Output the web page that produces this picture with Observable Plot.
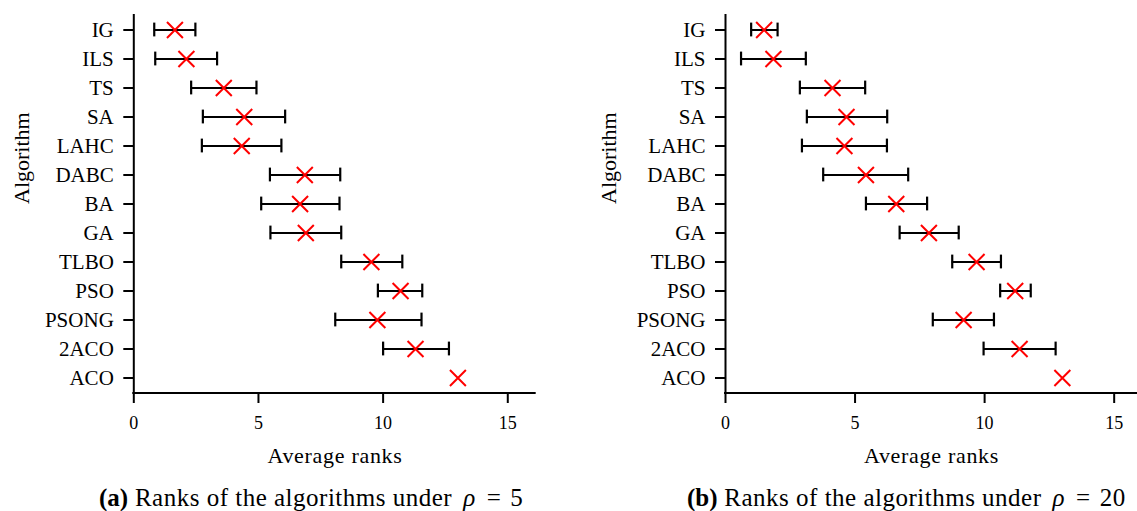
<!DOCTYPE html>
<html><head><meta charset="utf-8">
<script src="https://cdn.jsdelivr.net/npm/d3@7"></script>
<script src="https://cdn.jsdelivr.net/npm/@observablehq/plot@0.6"></script>
<style>
body{margin:0;background:#fff;font-family:"Liberation Serif","Times New Roman",serif;color:#000}
#wrap{position:relative;width:1137px;height:511px;overflow:hidden;background:#fff}
.panel{position:absolute;top:0}
.cap{position:absolute;top:485px;font-size:25px;line-height:25px;white-space:nowrap;letter-spacing:0.5px}
.cap b{letter-spacing:0}
</style></head><body>
<div id="wrap"><div class="panel" id="pa" style="left:0;width:560px"></div><div class="panel" id="pb" style="left:580px;width:557px"></div></div>
<script>
const algorithms = ["IG","ILS","TS","SA","LAHC","DABC","BA","GA","TLBO","PSO","PSONG","2ACO","ACO"];
const xTicks = [0, 5, 10, 15];

// (a) rho = 5
const meanA = [1.65, 2.11, 3.61, 4.43, 4.33, 6.86, 6.67, 6.90, 9.53, 10.70, 9.77, 11.30, 13.0];
const lowA  = [0.82, 0.86, 2.30, 2.77, 2.73, 5.46, 5.11, 5.48, 8.32, 9.79, 8.08, 10.00, null];
const highA = [2.47, 3.34, 4.92, 6.07, 5.92, 8.28, 8.25, 8.32, 10.77, 11.57, 11.54, 12.64, null];

// (b) rho = 20
const meanB = [1.49, 1.85, 4.13, 4.67, 4.59, 5.42, 6.59, 7.85, 9.69, 11.18, 9.19, 11.35, 13.0];
const lowB  = [0.99, 0.60, 2.87, 3.14, 2.95, 3.77, 5.42, 6.72, 8.75, 10.60, 8.00, 9.96, null];
const highB = [2.01, 3.10, 5.39, 6.24, 6.23, 7.05, 7.78, 9.00, 10.63, 11.78, 10.36, 12.74, null];

const xLabel = "Average ranks";
const yLabel = "Algorithm";
const captionA = ["(a)", "Ranks of the algorithms under", "ρ", "5"];
const captionB = ["(b)", "Ranks of the algorithms under", "ρ", "20"];

function bottomLine(index, scales, values, dim) {
  const g = d3.create("svg:g");
  g.append("line")
    .attr("x1", dim.marginLeft - 1).attr("x2", dim.width - dim.marginRight)
    .attr("y1", dim.height - dim.marginBottom).attr("y2", dim.height - dim.marginBottom)
    .attr("stroke", "#000").attr("stroke-width", 2);
  return g.node();
}

function panel(mean, low, high, o) {
  const rows = algorithms.map((a, i) => ({a, m: mean[i], lo: low[i], hi: high[i]}));
  const bars = rows.filter(d => d.lo != null && d.hi != null);
  const svg = Plot.plot({
    width: o.width, height: 470,
    marginLeft: o.ml, marginRight: o.mr, marginTop: 14, marginBottom: 77,
    style: {fontFamily: "'Liberation Serif', 'Times New Roman', serif", color: "#000", background: "#fff", overflow: "visible"},
    x: {domain: [0, o.xmax]},
    y: {type: "band", domain: algorithms, padding: 0},
    marks: [
      Plot.axisX({ticks: xTicks, tickSize: 10, tickPadding: 13, fontSize: 18, strokeWidth: 2, label: null}),
      Plot.axisY({tickSize: 10, tickPadding: 10, fontSize: 21, strokeWidth: 2, label: null}),
      Plot.ruleX([0], {stroke: "#000", strokeWidth: 2}),
      bottomLine,
      Plot.ruleY(bars, {y: "a", x1: "lo", x2: "hi", stroke: "#000", strokeWidth: 2}),
      Plot.tickX(bars, {y: "a", x: "lo", stroke: "#000", strokeWidth: 2.2, insetTop: 7.6, insetBottom: 7.6}),
      Plot.tickX(bars, {y: "a", x: "hi", stroke: "#000", strokeWidth: 2.2, insetTop: 7.6, insetBottom: 7.6}),
      Plot.dot(rows, {y: "a", x: "m", symbol: "times", r: 7.3, stroke: "#ff0000", strokeWidth: 2}),
      Plot.text([xLabel], {text: d => d, frameAnchor: "bottom", lineAnchor: "bottom", dy: 69.5, fontSize: 22, fill: "#000"}),
      Plot.text([yLabel], {text: d => d, frameAnchor: "left", rotate: -90, dx: o.ylab, fontSize: 22, fill: "#000"})
    ]
  });
  d3.select(svg).selectAll("text").filter(function() { return this.textContent === xLabel; })
    .style("letter-spacing", "0.7px");
  return svg;
}

function caption(parts, left) {
  const div = document.createElement("div");
  div.className = "cap";
  div.style.left = left + "px";
  const b = document.createElement("b"); b.textContent = parts[0];
  div.appendChild(b);
  div.appendChild(document.createTextNode(" " + parts[1]));
  const m = document.createElement("span");
  m.style.marginLeft = "11px";
  const i = document.createElement("i"); i.textContent = parts[2];
  m.appendChild(i);
  const eq = document.createElement("span"); eq.textContent = "="; eq.style.margin = "0 9px 0 11px";
  m.appendChild(eq);
  m.appendChild(document.createTextNode(parts[3]));
  div.appendChild(m);
  return div;
}

const pa = document.getElementById("pa");
pa.appendChild(panel(meanA, lowA, highA, {width: 560, ml: 133.3, mr: 24.3, xmax: 16.14, ylab: -112}));
pa.appendChild(caption(captionA, 99));
const pb = document.getElementById("pb");
pb.appendChild(panel(meanB, lowB, highB, {width: 557, ml: 145, mr: 0, xmax: 15.9, ylab: -117}));
pb.appendChild(caption(captionB, 107));
</script>
</body></html>
